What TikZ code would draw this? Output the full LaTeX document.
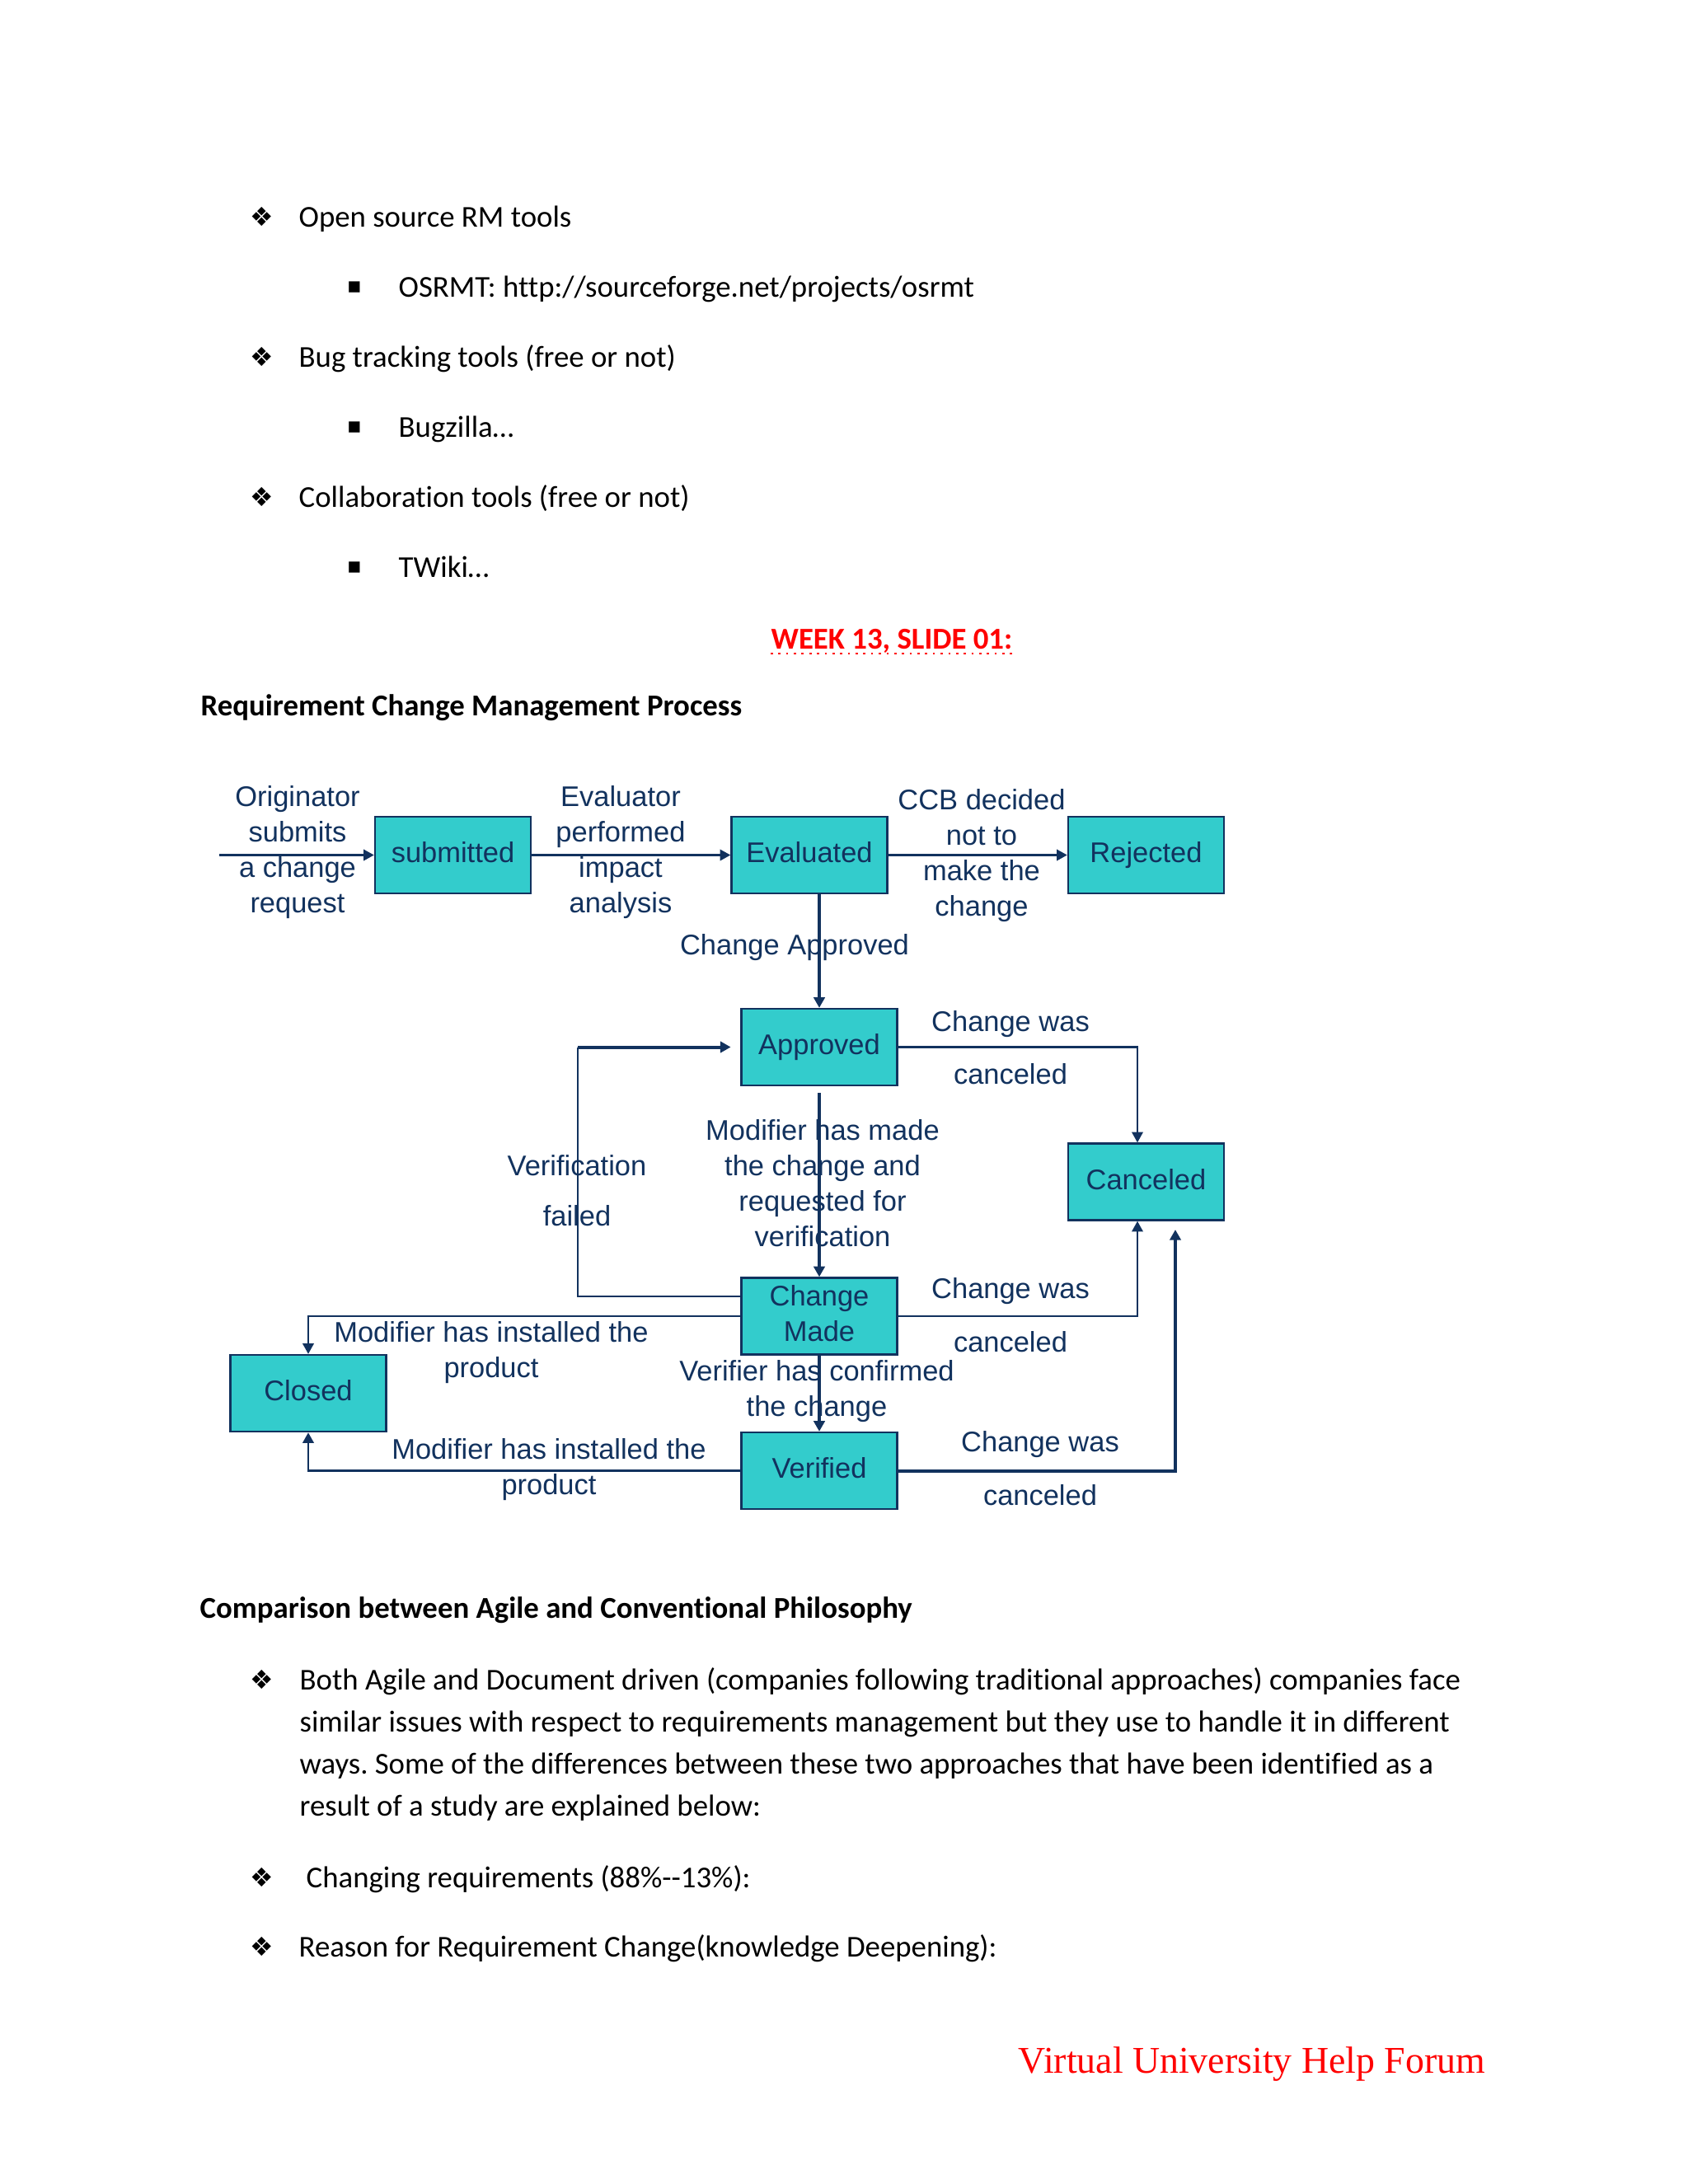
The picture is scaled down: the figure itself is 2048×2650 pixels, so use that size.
\documentclass[tikz,border=0pt]{standalone}
\usepackage{fontspec}
\setmainfont{Carlito}[Ligatures={NoCommon}]
\newfontfamily\diagfont{Liberation Sans}
\newfontfamily\symbfont{DejaVu Sans}
\newfontfamily\footfont{Liberation Serif}
\usetikzlibrary{arrows.meta}
\definecolor{boxfill}{HTML}{33CCCC}
\definecolor{navy}{HTML}{12325E}
\definecolor{redtxt}{HTML}{FF0000}
\frenchspacing
\begin{document}
\begin{tikzpicture}[x=0.29883pt,y=-0.29883pt,
  body/.style={anchor=base west,inner sep=0,font=\fontsize{11}{13}\selectfont},
  bodybold/.style={body,font=\bfseries\fontsize{11}{13}\selectfont},
  diamondbullet/.style={anchor=center,inner sep=0,font=\symbfont\fontsize{9.5}{10}\selectfont},
  squarebullet/.style={anchor=center,inner sep=0,font=\symbfont\fontsize{8}{10}\selectfont},
  statebox/.style={draw=navy,line width=0.7pt,fill=boxfill,minimum width=56.5pt,minimum height=27.8pt,inner sep=0,text=navy,font=\diagfont\fontsize{10.3}{13.1}\selectfont,align=center,text height=7.6pt,text depth=2.2pt},
  lbl/.style={text=navy,font=\diagfont\fontsize{10.3}{12.85}\selectfont,align=center,inner sep=0},
  conn/.style={draw=navy,line width=0.7pt},
  thickconn/.style={draw=navy,line width=1.2pt},
  tip/.style={-{Triangle[length=3.8pt,width=4pt]}}
]
\useasboundingbox[fill=white] (0,0) rectangle (2048,2650);

% ---------- top bullet list ----------
\node[diamondbullet] (b1) at (318,263) {❖};
\node[body] (t1) at (362,275) {Open source RM tools};
\node[squarebullet] (s1) at (430,349) {▪};
\node[body] (t2) at (483,360) {OSRMT: http://sourceforge.net/projects/osrmt};
\node[diamondbullet] (b2) at (318,433) {❖};
\node[body] (t3) at (362,445) {Bug tracking tools (free or not)};
\node[squarebullet] (s2) at (430,519) {▪};
\node[body] (t4) at (483,530) {Bugzilla…};
\node[diamondbullet] (b3) at (318,603) {❖};
\node[body] (t5) at (362,615) {Collaboration tools (free or not)};
\node[squarebullet] (s3) at (430,689) {▪};
\node[body] (t6) at (483,700) {TWiki…};

\node[bodybold,text=redtxt] (week) at (935,787) {WEEK 13, SLIDE 01:};
\draw[redtxt,line width=0.8pt,dotted] (week.base west) ++(0,6) coordinate (ul1) -- (week.base east |- ul1);

\node[bodybold] (h1) at (243,868) {Requirement Change Management Process};

% ---------- diagram boxes ----------
\node[statebox] (submitted) at (549.5,1037.5) {submitted};
\node[statebox] (Evaluated) at (982,1037.5) {Evaluated};
\node[statebox] (Rejected) at (1390.5,1037.5) {Rejected};
\node[statebox] (Approved) at (994,1270.5) {Approved};
\node[statebox] (Canceled) at (1390.5,1434) {Canceled};
\node[statebox,text height=20.7pt] (ChangeMade) at (994,1597) {Change\\Made};
\node[statebox] (Closed) at (374,1690.5) {Closed};
\node[statebox] (Verified) at (994,1784.5) {Verified};

\coordinate (inStart) at (266,1037.5);
\coordinate (apS) at (994,1326);
\coordinate (cx) at (1380,1300);
\coordinate (loopX) at (701,1400);
\coordinate (vEnd) at (1426,1492);

% ---------- connectors ----------
\draw[conn,tip] (inStart) -- (submitted);
\draw[conn,tip] (submitted) -- (Evaluated);
\draw[conn,tip] (Evaluated) -- (Rejected);
\draw[thickconn,tip] (Approved.north |- Evaluated.south) -- (Approved.north);
\draw[conn,tip] (Approved.east) -| (cx |- Canceled.north);
\draw[thickconn,tip] (apS) -- (ChangeMade.north);
\draw[conn] ([yshift=7.2pt]ChangeMade.west) -| (loopX |- Approved.west);
\draw[thickconn,tip] (loopX |- Approved.west) -- ([xshift=-3.5pt]Approved.west);
\draw[conn,tip] (ChangeMade.east) -| (cx |- Canceled.south);
\draw[conn,tip] (ChangeMade.west) -| (Closed.north);
\draw[thickconn,tip] (ChangeMade.south) -- (Verified.north);
\draw[conn,line width=0.85pt,tip] (Verified.west) -| (Closed.south);
\draw[thickconn,tip] (Verified.east) -| (vEnd);

% ---------- labels ----------
\node[lbl] (lOrig) at (361,1034) {Originator\\submits\\a change\\request};
\node[lbl] (lEval) at (753,1034) {Evaluator\\performed\\impact\\analysis};
\node[lbl] (lCCB) at (1191,1038) {CCB decided\\not to\\make the\\change};
\node[lbl] (lApp) at (964,1150) {Change Approved};
\node[lbl] (lCw1) at (1226,1243) {Change was};
\node[lbl] (lCc1) at (1226,1303) {canceled};
\node[lbl] (lMod) at (998,1435.5) {Modifier has made\\the change and\\requested for\\verification};
\node[lbl] (lVer) at (700,1414) {Verification};
\node[lbl] (lFail) at (700,1475) {failed};
\node[lbl] (lCw2) at (1226,1567) {Change was};
\node[lbl] (lCc2) at (1226,1628) {canceled};
\node[lbl] (lInst1) at (596,1641.5) {Modifier has installed the\\product};
\node[lbl] (lConf) at (991,1688.5) {Verifier has confirmed\\the change};
\node[lbl] (lInst2) at (666,1783) {Modifier has installed the\\product};
\node[lbl] (lCw3) at (1262,1753) {Change was};
\node[lbl] (lCc3) at (1262,1814) {canceled};

% ---------- lower text ----------
\node[bodybold] (h2) at (242,1963) {Comparison between Agile and Conventional Philosophy};
\node[diamondbullet] (b4) at (318,2038) {❖};
\node[body] (p1) at (363,2050) {Both Agile and Document driven (companies following traditional approaches) companies face};
\node[body] (p2) at (363,2101) {similar issues with respect to requirements management but they use to handle it in different};
\node[body] (p3) at (363,2152) {ways. Some of the differences between these two approaches that have been identified as a};
\node[body] (p4) at (363,2203) {result of a study are explained below:};
\node[diamondbullet] (b5) at (318,2278) {❖};
\node[body] (p5) at (371,2290) {Changing requirements (88\%{-}{-}13\%):};
\node[diamondbullet] (b6) at (318,2362) {❖};
\node[body] (p6) at (362,2374) {Reason for Requirement Change(knowledge Deepening):};

\node[anchor=base west,inner sep=0,text=redtxt,font=\footfont\fontsize{13.7}{15}\selectfont] (foot) at (1235,2515) {Virtual University Help Forum};
\end{tikzpicture}
\end{document}
